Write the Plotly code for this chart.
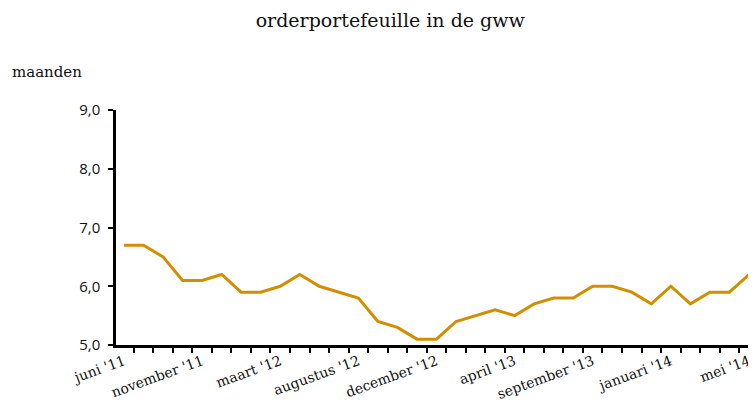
import plotly.graph_objects as go

values = [6.7, 6.7, 6.5, 6.1, 6.1, 6.2, 5.9, 5.9, 6.0, 6.2, 6.0, 5.9, 5.8,
          5.4, 5.3, 5.1, 5.1, 5.4, 5.5, 5.6, 5.5, 5.7, 5.8, 5.8, 6.0, 6.0,
          5.9, 5.7, 6.0, 5.7, 5.9, 5.9, 6.2]
tick_pos = [0, 4, 8, 12, 16, 20, 24, 28, 32]
tick_labels = ["juni '11", "november '11", "maart '12", "augustus '12",
               "december '12", "april '13", "september '13", "januari '14",
               "mei '14"]
y_ticks = [5, 6, 7, 8, 9]

x = list(range(len(values)))

fig = go.Figure()
fig.add_trace(go.Scatter(x=x, y=values, mode="lines",
                         line=dict(color="#D18F00", width=3),
                         hoverinfo="skip"))

# page body has an 8px margin; figure is sized to fit the window
fig.update_layout(
    width=748, height=397,
    margin=dict(l=108, r=0, t=102, b=60, autoexpand=False),
    paper_bgcolor="white", plot_bgcolor="white",
    separators=",.",
    showlegend=False,
    title=dict(text="orderportefeuille in de gww", x=0.511, xanchor="center",
               y=1 - 12/397, yanchor="middle",
               font=dict(family="DejaVu Serif", size=19, color="#111111")),
    annotations=[dict(text="maanden", xref="paper", yref="paper",
                      x=-106/640, y=1 + 38/235, xanchor="left", yanchor="middle",
                      showarrow=False,
                      font=dict(family="DejaVu Serif", size=15, color="#111111"))],
)

fig.update_xaxes(
    range=[-0.41, 32.36], automargin=False,
    tickvals=tick_pos, ticktext=tick_labels,
    ticks="", tickangle=-20,
    tickfont=dict(family="DejaVu Serif", size=14, color="#111111"),
    showline=True, linecolor="black", linewidth=3,
    showgrid=False, zeroline=False,
    minor=dict(tickvals=[i - 0.5 for i in range(len(values) + 1)],
               ticks="outside", ticklen=5, tickwidth=2, tickcolor="black",
               showgrid=False),
)
fig.update_yaxes(
    range=[5, 9], tickvals=y_ticks, tickformat=".1f", automargin=False,
    ticks="outside", ticklen=5, tickwidth=2, tickcolor="black",
    ticklabelstandoff=5,
    tickfont=dict(family="Open Sans", size=15, color="#111111"),
    showline=True, linecolor="black", linewidth=2.5,
    showgrid=False, zeroline=False,
)

fig.write_html("out.html")
